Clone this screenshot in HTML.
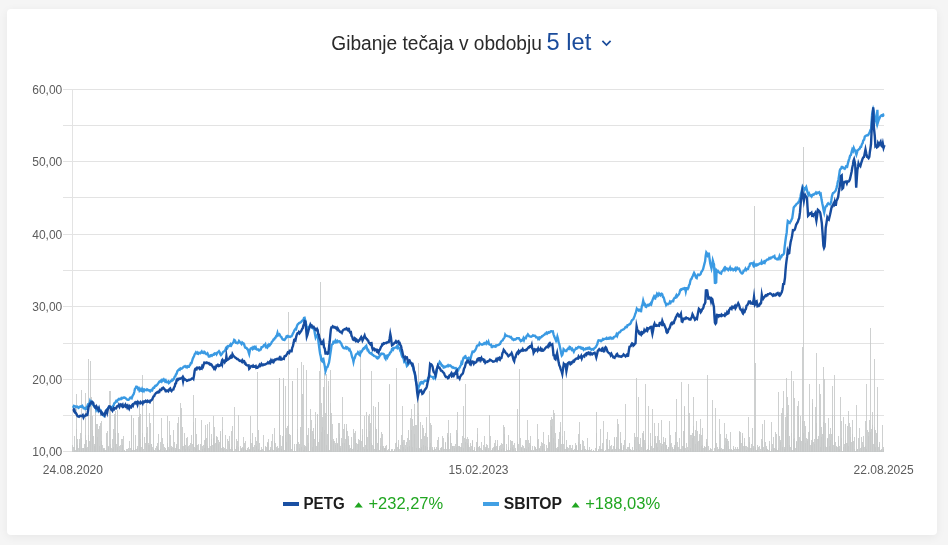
<!DOCTYPE html>
<html lang="sl">
<head>
<meta charset="utf-8">
<title>Gibanje tečaja</title>
<style>
html,body{margin:0;padding:0;}
body{width:948px;height:545px;background:#f5f5f5;overflow:hidden;position:relative;font-family:"Liberation Sans",sans-serif;}
.card{position:absolute;left:7px;top:9px;width:930px;height:526px;background:#fff;border-radius:4px;box-shadow:0 2px 10px rgba(0,0,0,0.06);}
svg{position:absolute;left:0;top:0;}
.ax{font-family:"Liberation Sans",sans-serif;font-size:12px;fill:#5c5c5c;}
.ttl{font-family:"Liberation Sans",sans-serif;font-size:20px;fill:#2a2a2a;}
.per{font-family:"Liberation Sans",sans-serif;font-size:24px;fill:#1a4b9b;}
.lg{font-family:"Liberation Sans",sans-serif;font-size:16.8px;font-weight:bold;fill:#1d1d1d;}
.pc{font-family:"Liberation Sans",sans-serif;font-size:17.2px;fill:#21a621;}
</style>
</head>
<body>
<div class="card"></div>
<svg width="948" height="545" viewBox="0 0 948 545">

<path d="M63 89.5H884M63 125.5H884M63 161.5H884M63 197.5H884M63 234.5H884M63 270.5H884M63 306.5H884M63 343.5H884M63 379.5H884M63 415.5H884M63 451.5H884" stroke="#e3e3e3" stroke-width="1" fill="none"/>
<path d="M72.5 89V452" stroke="#e3e3e3" stroke-width="1" fill="none"/>
<path d="M72.82 451.5v-6.8M73.46 451.5v-4.1M74.11 451.5v-4.3M74.75 451.5v-15.9M75.39 451.5v-1.2M76.04 451.5v-57.7M76.68 451.5v-22.1M77.32 451.5v-6.3M77.97 451.5v-12.7M78.61 451.5v-3.9M79.25 451.5v-12.7M79.89 451.5v-8.8M80.54 451.5v-18.5M81.18 451.5v-61.3M81.82 451.5v-13.3M82.47 451.5v-3.8M83.11 451.5v-3.1M83.75 451.5v-3.4M84.40 451.5v-8.0M85.04 451.5v-58.8M85.68 451.5v-16.8M86.33 451.5v-11.9M86.97 451.5v-3.2M87.61 451.5v-4.4M88.25 451.5v-92.1M88.90 451.5v-16.8M89.54 451.5v-10.9M90.18 451.5v-91.0M90.83 451.5v-36.4M91.47 451.5v-54.5M92.11 451.5v-35.9M92.76 451.5v-21.7M93.40 451.5v-16.0M94.04 451.5v-7.1M94.68 451.5v-5.9M95.33 451.5v-41.1M95.97 451.5v-33.5M96.61 451.5v-27.4M97.26 451.5v-27.8M97.90 451.5v-14.8M98.54 451.5v-22.1M99.19 451.5v-25.4M99.83 451.5v-5.1M100.47 451.5v-28.2M101.11 451.5v-30.5M101.76 451.5v-10.4M102.40 451.5v-6.9M103.04 451.5v-3.3M103.69 451.5v-2.2M104.33 451.5v-3.9M104.97 451.5v-1.7M105.62 451.5v-1.3M106.26 451.5v-18.7M106.90 451.5v-2.0M107.54 451.5v-20.6M108.19 451.5v-4.6M108.83 451.5v-5.5M109.47 451.5v-60.5M110.12 451.5v-60.2M110.76 451.5v-7.1M111.40 451.5v-3.6M112.05 451.5v-2.6M112.69 451.5v-12.7M113.33 451.5v-4.7M113.98 451.5v-22.4M114.62 451.5v-37.5M115.26 451.5v-18.8M115.90 451.5v-40.5M116.55 451.5v-7.6M117.19 451.5v-41.9M117.83 451.5v-4.8M118.48 451.5v-18.1M119.12 451.5v-5.2M119.76 451.5v-1.6M120.41 451.5v-6.6M121.05 451.5v-12.8M121.69 451.5v-0.7M122.33 451.5v-12.3M122.98 451.5v-6.9M123.62 451.5v-16.0M124.26 451.5v-1.5M124.91 451.5v-1.6M125.55 451.5v-0.7M126.19 451.5v-3.0M126.84 451.5v-0.6M127.48 451.5v-2.3M128.12 451.5v-0.9M128.76 451.5v-3.1M129.41 451.5v-10.3M130.05 451.5v-3.4M130.69 451.5v-0.3M131.34 451.5v-36.5M131.98 451.5v-36.6M132.62 451.5v-1.7M133.27 451.5v-33.5M133.91 451.5v-3.1M134.55 451.5v-1.7M135.20 451.5v-16.9M135.84 451.5v-3.0M136.48 451.5v-2.9M137.12 451.5v-6.0M137.77 451.5v-3.1M138.41 451.5v-35.0M139.05 451.5v-35.5M139.70 451.5v-48.2M140.34 451.5v-12.2M140.98 451.5v-37.5M141.63 451.5v-4.2M142.27 451.5v-76.7M142.91 451.5v-18.7M143.55 451.5v-2.2M144.20 451.5v-0.9M144.84 451.5v-14.4M145.48 451.5v-8.1M146.13 451.5v-18.3M146.77 451.5v-51.7M147.41 451.5v-24.7M148.06 451.5v-6.1M148.70 451.5v-8.3M149.34 451.5v-6.5M149.98 451.5v-38.5M150.63 451.5v-28.4M151.27 451.5v-7.6M151.91 451.5v-7.2M152.56 451.5v-4.1M153.20 451.5v-55.6M153.84 451.5v-3.0M154.49 451.5v-1.8M155.13 451.5v-0.7M155.77 451.5v-3.5M156.42 451.5v-5.9M157.06 451.5v-8.5M157.70 451.5v-4.2M158.34 451.5v-17.2M158.99 451.5v-2.2M159.63 451.5v-1.6M160.27 451.5v-9.4M160.92 451.5v-2.5M161.56 451.5v-33.5M162.20 451.5v-13.9M162.85 451.5v-0.9M163.49 451.5v-7.7M164.13 451.5v-1.6M164.77 451.5v-4.9M165.42 451.5v-3.6M166.06 451.5v-1.0M166.70 451.5v-1.3M167.35 451.5v-36.0M167.99 451.5v-8.1M168.63 451.5v-4.1M169.28 451.5v-30.1M169.92 451.5v-2.8M170.56 451.5v-16.2M171.20 451.5v-3.5M171.85 451.5v-5.7M172.49 451.5v-4.4M173.13 451.5v-3.8M173.78 451.5v-22.0M174.42 451.5v-9.3M175.06 451.5v-3.4M175.71 451.5v-1.6M176.35 451.5v-5.5M176.99 451.5v-7.8M177.63 451.5v-28.8M178.28 451.5v-35.0M178.92 451.5v-2.6M179.56 451.5v-2.9M180.21 451.5v-48.2M180.85 451.5v-1.9M181.49 451.5v-43.2M182.14 451.5v-6.0M182.78 451.5v-24.8M183.42 451.5v-5.2M184.07 451.5v-18.5M184.71 451.5v-7.6M185.35 451.5v-2.9M185.99 451.5v-6.2M186.64 451.5v-13.3M187.28 451.5v-14.9M187.92 451.5v-4.1M188.57 451.5v-5.6M189.21 451.5v-6.8M189.85 451.5v-2.6M190.50 451.5v-8.6M191.14 451.5v-0.7M191.78 451.5v-17.0M192.42 451.5v-7.1M193.07 451.5v-29.8M193.71 451.5v-56.2M194.35 451.5v-4.3M195.00 451.5v-3.7M195.64 451.5v-33.5M196.28 451.5v-17.9M196.93 451.5v-6.8M197.57 451.5v-6.8M198.21 451.5v-7.9M198.85 451.5v-1.4M199.50 451.5v-1.7M200.14 451.5v-0.5M200.78 451.5v-7.5M201.43 451.5v-31.8M202.07 451.5v-5.1M202.71 451.5v-2.3M203.36 451.5v-6.1M204.00 451.5v-11.8M204.64 451.5v-3.1M205.29 451.5v-27.0M205.93 451.5v-12.3M206.57 451.5v-13.4M207.21 451.5v-5.3M207.86 451.5v-27.3M208.50 451.5v-3.4M209.14 451.5v-29.9M209.79 451.5v-4.0M210.43 451.5v-5.7M211.07 451.5v-12.3M211.72 451.5v-17.3M212.36 451.5v-6.9M213.00 451.5v-13.2M213.64 451.5v-35.8M214.29 451.5v-7.5M214.93 451.5v-24.4M215.57 451.5v-8.9M216.22 451.5v-16.0M216.86 451.5v-14.1M217.50 451.5v-14.3M218.15 451.5v-7.8M218.79 451.5v-11.8M219.43 451.5v-9.1M220.07 451.5v-20.9M220.72 451.5v-17.4M221.36 451.5v-3.7M222.00 451.5v-34.5M222.65 451.5v-23.0M223.29 451.5v-4.3M223.93 451.5v-2.7M224.58 451.5v-3.7M225.22 451.5v-1.6M225.86 451.5v-16.3M226.50 451.5v-2.8M227.15 451.5v-1.6M227.79 451.5v-12.7M228.43 451.5v-10.5M229.08 451.5v-7.2M229.72 451.5v-15.9M230.36 451.5v-3.0M231.01 451.5v-4.8M231.65 451.5v-20.4M232.29 451.5v-2.8M232.94 451.5v-25.6M233.58 451.5v-0.6M234.22 451.5v-0.2M234.86 451.5v-45.0M235.51 451.5v-2.1M236.15 451.5v-5.3M236.79 451.5v-12.6M237.44 451.5v-10.1M238.08 451.5v-4.7M238.72 451.5v-36.6M239.37 451.5v-0.5M240.01 451.5v-0.4M240.65 451.5v-5.3M241.29 451.5v-2.6M241.94 451.5v-3.5M242.58 451.5v-4.5M243.22 451.5v-3.1M243.87 451.5v-15.0M244.51 451.5v-8.6M245.15 451.5v-2.5M245.80 451.5v-10.7M246.44 451.5v-1.8M247.08 451.5v-1.2M247.72 451.5v-3.7M248.37 451.5v-5.0M249.01 451.5v-1.7M249.65 451.5v-2.6M250.30 451.5v-35.2M250.94 451.5v-12.2M251.58 451.5v-8.7M252.23 451.5v-8.5M252.87 451.5v-18.7M253.51 451.5v-4.9M254.16 451.5v-6.2M254.80 451.5v-1.4M255.44 451.5v-14.9M256.08 451.5v-5.9M256.73 451.5v-10.1M257.37 451.5v-79.9M258.01 451.5v-2.6M258.66 451.5v-21.3M259.30 451.5v-8.4M259.94 451.5v-0.8M260.59 451.5v-1.8M261.23 451.5v-4.9M261.87 451.5v-1.7M262.51 451.5v-2.1M263.16 451.5v-16.4M263.80 451.5v-1.7M264.44 451.5v-0.7M265.09 451.5v-5.3M265.73 451.5v-4.3M266.37 451.5v-4.9M267.02 451.5v-9.4M267.66 451.5v-8.6M268.30 451.5v-12.9M268.94 451.5v-8.1M269.59 451.5v-1.9M270.23 451.5v-2.3M270.87 451.5v-4.1M271.52 451.5v-11.0M272.16 451.5v-2.5M272.80 451.5v-17.3M273.45 451.5v-1.2M274.09 451.5v-11.0M274.73 451.5v-23.3M275.38 451.5v-8.8M276.02 451.5v-4.2M276.66 451.5v-1.8M277.30 451.5v-2.5M277.95 451.5v-5.2M278.59 451.5v-3.3M279.23 451.5v-73.5M279.88 451.5v-73.5M280.52 451.5v-16.3M281.16 451.5v-5.8M281.81 451.5v-3.0M282.45 451.5v-15.4M283.09 451.5v-72.5M283.73 451.5v-73.5M284.38 451.5v-1.7M285.02 451.5v-16.7M285.66 451.5v-65.5M286.31 451.5v-9.5M286.95 451.5v-23.6M287.59 451.5v-25.7M288.24 451.5v-26.4M288.88 451.5v-139.5M289.52 451.5v-17.3M290.16 451.5v-16.2M290.81 451.5v-11.4M291.45 451.5v-2.7M292.09 451.5v-70.8M292.74 451.5v-70.5M293.38 451.5v-0.7M294.02 451.5v-7.1M294.67 451.5v-4.2M295.31 451.5v-1.0M295.95 451.5v-0.7M296.59 451.5v-8.0M297.24 451.5v-83.5M297.88 451.5v-22.9M298.52 451.5v-9.9M299.17 451.5v-7.9M299.81 451.5v-3.1M300.45 451.5v-24.9M301.10 451.5v-4.3M301.74 451.5v-90.0M302.38 451.5v-57.8M303.03 451.5v-86.5M303.67 451.5v-1.8M304.31 451.5v-6.7M304.95 451.5v-4.1M305.60 451.5v-5.1M306.24 451.5v-4.7M306.88 451.5v-81.5M307.53 451.5v-16.4M308.17 451.5v-8.5M308.81 451.5v-23.3M309.46 451.5v-0.9M310.10 451.5v-22.2M310.74 451.5v-42.7M311.38 451.5v-31.4M312.03 451.5v-20.2M312.67 451.5v-4.1M313.31 451.5v-23.5M313.96 451.5v-17.4M314.60 451.5v-12.9M315.24 451.5v-27.2M315.89 451.5v-40.0M316.53 451.5v-5.5M317.17 451.5v-37.6M317.81 451.5v-36.3M318.46 451.5v-9.4M319.10 451.5v-80.5M319.74 451.5v-12.7M320.39 451.5v-169.2M321.03 451.5v-48.2M321.67 451.5v-19.2M322.32 451.5v-35.0M322.96 451.5v-24.3M323.60 451.5v-64.4M324.25 451.5v-21.4M324.89 451.5v-78.5M325.53 451.5v-38.9M326.17 451.5v-77.5M326.82 451.5v-6.7M327.46 451.5v-17.1M328.10 451.5v-65.5M328.75 451.5v-71.0M329.39 451.5v-1.5M330.03 451.5v-48.5M330.68 451.5v-81.5M331.32 451.5v-38.5M331.96 451.5v-11.3M332.60 451.5v-27.1M333.25 451.5v-10.7M333.89 451.5v-12.2M334.53 451.5v-10.6M335.18 451.5v-8.6M335.82 451.5v-6.1M336.46 451.5v-13.1M337.11 451.5v-9.0M337.75 451.5v-7.6M338.39 451.5v-28.2M339.03 451.5v-17.4M339.68 451.5v-28.3M340.32 451.5v-4.0M340.96 451.5v-5.9M341.61 451.5v-13.2M342.25 451.5v-8.4M342.89 451.5v-54.5M343.54 451.5v-22.2M344.18 451.5v-27.7M344.82 451.5v-8.2M345.46 451.5v-12.3M346.11 451.5v-27.6M346.75 451.5v-23.2M347.39 451.5v-20.8M348.04 451.5v-15.7M348.68 451.5v-12.7M349.32 451.5v-2.9M349.97 451.5v-6.6M350.61 451.5v-4.0M351.25 451.5v-6.8M351.90 451.5v-14.5M352.54 451.5v-2.2M353.18 451.5v-22.7M353.82 451.5v-3.9M354.47 451.5v-18.9M355.11 451.5v-20.1M355.75 451.5v-13.0M356.40 451.5v-8.2M357.04 451.5v-7.4M357.68 451.5v-1.5M358.33 451.5v-12.3M358.97 451.5v-7.5M359.61 451.5v-11.5M360.25 451.5v-82.5M360.90 451.5v-94.5M361.54 451.5v-10.2M362.18 451.5v-22.8M362.83 451.5v-16.2M363.47 451.5v-4.9M364.11 451.5v-2.1M364.76 451.5v-35.8M365.40 451.5v-6.1M366.04 451.5v-22.8M366.68 451.5v-39.1M367.33 451.5v-14.7M367.97 451.5v-2.2M368.61 451.5v-35.7M369.26 451.5v-20.8M369.90 451.5v-37.6M370.54 451.5v-28.4M371.19 451.5v-80.7M371.83 451.5v-8.3M372.47 451.5v-6.1M373.12 451.5v-5.1M373.76 451.5v-45.8M374.40 451.5v-2.8M375.04 451.5v-44.6M375.69 451.5v-25.0M376.33 451.5v-2.8M376.97 451.5v-22.2M377.62 451.5v-8.9M378.26 451.5v-49.5M378.90 451.5v-49.5M379.55 451.5v-1.9M380.19 451.5v-13.4M380.83 451.5v-5.2M381.47 451.5v-19.3M382.12 451.5v-17.8M382.76 451.5v-5.6M383.40 451.5v-5.3M384.05 451.5v-3.4M384.69 451.5v-4.0M385.33 451.5v-3.1M385.98 451.5v-5.6M386.62 451.5v-7.0M387.26 451.5v-1.6M387.90 451.5v-1.0M388.55 451.5v-2.8M389.19 451.5v-67.5M389.83 451.5v-67.0M390.48 451.5v-0.9M391.12 451.5v-1.4M391.76 451.5v-2.9M392.41 451.5v-2.1M393.05 451.5v-0.2M393.69 451.5v-0.6M394.33 451.5v-1.2M394.98 451.5v-2.3M395.62 451.5v-8.7M396.26 451.5v-84.0M396.91 451.5v-9.6M397.55 451.5v-4.5M398.19 451.5v-12.0M398.84 451.5v-7.6M399.48 451.5v-2.9M400.12 451.5v-1.5M400.77 451.5v-6.8M401.41 451.5v-16.6M402.05 451.5v-46.0M402.69 451.5v-9.6M403.34 451.5v-11.2M403.98 451.5v-4.9M404.62 451.5v-11.1M405.27 451.5v-6.5M405.91 451.5v-2.5M406.55 451.5v-9.5M407.20 451.5v-4.4M407.84 451.5v-13.7M408.48 451.5v-21.2M409.12 451.5v-5.1M409.77 451.5v-11.4M410.41 451.5v-33.8M411.05 451.5v-22.0M411.70 451.5v-42.5M412.34 451.5v-4.1M412.98 451.5v-33.0M413.63 451.5v-25.9M414.27 451.5v-47.5M414.91 451.5v-18.0M415.55 451.5v-26.3M416.20 451.5v-3.5M416.84 451.5v-26.4M417.48 451.5v-49.8M418.13 451.5v-89.0M418.77 451.5v-38.4M419.41 451.5v-3.5M420.06 451.5v-29.7M420.70 451.5v-2.4M421.34 451.5v-12.3M421.99 451.5v-4.3M422.63 451.5v-26.6M423.27 451.5v-23.9M423.91 451.5v-6.6M424.56 451.5v-15.7M425.20 451.5v-18.8M425.84 451.5v-6.0M426.49 451.5v-34.4M427.13 451.5v-14.9M427.77 451.5v-4.6M428.42 451.5v-2.0M429.06 451.5v-60.9M429.70 451.5v-4.4M430.34 451.5v-8.4M430.99 451.5v-28.3M431.63 451.5v-26.3M432.27 451.5v-2.9M432.92 451.5v-4.3M433.56 451.5v-1.4M434.20 451.5v-4.2M434.85 451.5v-2.9M435.49 451.5v-2.8M436.13 451.5v-5.0M436.77 451.5v-0.7M437.42 451.5v-11.1M438.06 451.5v-14.2M438.70 451.5v-3.9M439.35 451.5v-1.2M439.99 451.5v-0.8M440.63 451.5v-3.7M441.28 451.5v-4.0M441.92 451.5v-4.2M442.56 451.5v-15.9M443.21 451.5v-13.9M443.85 451.5v-2.4M444.49 451.5v-2.2M445.13 451.5v-9.8M445.78 451.5v-8.1M446.42 451.5v-2.2M447.06 451.5v-16.5M447.71 451.5v-18.9M448.35 451.5v-14.8M448.99 451.5v-31.5M449.64 451.5v-2.5M450.28 451.5v-18.2M450.92 451.5v-15.9M451.56 451.5v-9.0M452.21 451.5v-5.9M452.85 451.5v-5.9M453.49 451.5v-5.8M454.14 451.5v-5.7M454.78 451.5v-3.9M455.42 451.5v-7.3M456.07 451.5v-4.9M456.71 451.5v-21.3M457.35 451.5v-39.5M457.99 451.5v-19.0M458.64 451.5v-5.5M459.28 451.5v-5.8M459.92 451.5v-5.8M460.57 451.5v-4.2M461.21 451.5v-8.2M461.85 451.5v-4.5M462.50 451.5v-15.1M463.14 451.5v-46.0M463.78 451.5v-3.6M464.42 451.5v-13.9M465.07 451.5v-9.6M465.71 451.5v-67.5M466.35 451.5v-12.9M467.00 451.5v-8.5M467.64 451.5v-14.9M468.28 451.5v-12.2M468.93 451.5v-6.8M469.57 451.5v-4.8M470.21 451.5v-8.6M470.86 451.5v-2.2M471.50 451.5v-5.9M472.14 451.5v-10.4M472.78 451.5v-11.8M473.43 451.5v-1.5M474.07 451.5v-4.4M474.71 451.5v-2.8M475.36 451.5v-0.9M476.00 451.5v-4.0M476.64 451.5v-9.1M477.29 451.5v-17.8M477.93 451.5v-23.5M478.57 451.5v-4.3M479.21 451.5v-5.8M479.86 451.5v-5.2M480.50 451.5v-3.7M481.14 451.5v-9.5M481.79 451.5v-2.9M482.43 451.5v-1.6M483.07 451.5v-0.8M483.72 451.5v-6.2M484.36 451.5v-15.3M485.00 451.5v-4.8M485.64 451.5v-2.1M486.29 451.5v-7.8M486.93 451.5v-4.6M487.57 451.5v-6.7M488.22 451.5v-1.6M488.86 451.5v-3.8M489.50 451.5v-36.1M490.15 451.5v-15.1M490.79 451.5v-0.3M491.43 451.5v-2.0M492.08 451.5v-2.3M492.72 451.5v-3.8M493.36 451.5v-5.0M494.00 451.5v-8.4M494.65 451.5v-5.5M495.29 451.5v-4.7M495.93 451.5v-11.6M496.58 451.5v-5.4M497.22 451.5v-7.2M497.86 451.5v-11.4M498.51 451.5v-1.2M499.15 451.5v-3.1M499.79 451.5v-5.4M500.43 451.5v-6.2M501.08 451.5v-8.5M501.72 451.5v-2.4M502.36 451.5v-7.3M503.01 451.5v-26.5M503.65 451.5v-3.1M504.29 451.5v-24.7M504.94 451.5v-17.5M505.58 451.5v-0.7M506.22 451.5v-7.4M506.86 451.5v-2.7M507.51 451.5v-1.4M508.15 451.5v-4.9M508.79 451.5v-16.4M509.44 451.5v-1.9M510.08 451.5v-3.5M510.72 451.5v-12.0M511.37 451.5v-10.5M512.01 451.5v-4.9M512.65 451.5v-10.5M513.29 451.5v-2.6M513.94 451.5v-6.9M514.58 451.5v-8.4M515.22 451.5v-3.6M515.87 451.5v-1.6M516.51 451.5v-0.8M517.15 451.5v-42.7M517.80 451.5v-9.4M518.44 451.5v-7.1M519.08 451.5v-0.4M519.73 451.5v-82.3M520.37 451.5v-13.3M521.01 451.5v-3.2M521.65 451.5v-4.8M522.30 451.5v-0.9M522.94 451.5v-6.4M523.58 451.5v-5.1M524.23 451.5v-2.6M524.87 451.5v-3.7M525.51 451.5v-11.9M526.16 451.5v-12.0M526.80 451.5v-2.1M527.44 451.5v-31.3M528.08 451.5v-11.2M528.73 451.5v-4.4M529.37 451.5v-8.4M530.01 451.5v-15.3M530.66 451.5v-6.7M531.30 451.5v-0.5M531.94 451.5v-1.4M532.59 451.5v-5.8M533.23 451.5v-0.6M533.87 451.5v-1.5M534.51 451.5v-5.2M535.16 451.5v-4.1M535.80 451.5v-4.0M536.44 451.5v-3.0M537.09 451.5v-27.6M537.73 451.5v-11.2M538.37 451.5v-12.4M539.02 451.5v-3.7M539.66 451.5v-2.3M540.30 451.5v-5.8M540.95 451.5v-0.2M541.59 451.5v-9.1M542.23 451.5v-8.7M542.87 451.5v-5.5M543.52 451.5v-19.9M544.16 451.5v-2.4M544.80 451.5v-7.7M545.45 451.5v-0.3M546.09 451.5v-7.0M546.73 451.5v-1.1M547.38 451.5v-3.6M548.02 451.5v-16.8M548.66 451.5v-12.7M549.30 451.5v-9.1M549.95 451.5v-8.4M550.59 451.5v-31.6M551.23 451.5v-34.7M551.88 451.5v-25.8M552.52 451.5v-32.8M553.16 451.5v-41.3M553.81 451.5v-13.9M554.45 451.5v-38.7M555.09 451.5v-18.3M555.73 451.5v-9.0M556.38 451.5v-3.4M557.02 451.5v-2.9M557.66 451.5v-4.7M558.31 451.5v-13.0M558.95 451.5v-4.4M559.59 451.5v-19.6M560.24 451.5v-24.8M560.88 451.5v-29.5M561.52 451.5v-8.0M562.17 451.5v-16.0M562.81 451.5v-77.5M563.45 451.5v-7.5M564.09 451.5v-2.6M564.74 451.5v-20.9M565.38 451.5v-2.4M566.02 451.5v-11.3M566.67 451.5v-4.5M567.31 451.5v-2.7M567.95 451.5v-4.9M568.60 451.5v-3.2M569.24 451.5v-6.4M569.88 451.5v-0.6M570.52 451.5v-6.2M571.17 451.5v-3.9M571.81 451.5v-1.8M572.45 451.5v-6.2M573.10 451.5v-2.0M573.74 451.5v-1.2M574.38 451.5v-2.1M575.03 451.5v-5.9M575.67 451.5v-8.1M576.31 451.5v-5.5M576.95 451.5v-6.6M577.60 451.5v-1.2M578.24 451.5v-17.8M578.88 451.5v-10.0M579.53 451.5v-29.7M580.17 451.5v-7.1M580.81 451.5v-7.5M581.46 451.5v-1.7M582.10 451.5v-12.0M582.74 451.5v-3.0M583.38 451.5v-10.1M584.03 451.5v-5.1M584.67 451.5v-2.1M585.31 451.5v-2.2M585.96 451.5v-0.6M586.60 451.5v-1.2M587.24 451.5v-2.3M587.89 451.5v-13.3M588.53 451.5v-1.4M589.17 451.5v-1.4M589.82 451.5v-4.5M590.46 451.5v-1.1M591.10 451.5v-2.2M591.74 451.5v-1.0M592.39 451.5v-0.8M593.03 451.5v-1.8M593.67 451.5v-1.8M594.32 451.5v-0.5M594.96 451.5v-0.1M595.60 451.5v-3.1M596.25 451.5v-18.4M596.89 451.5v-39.5M597.53 451.5v-0.9M598.17 451.5v-2.6M598.82 451.5v-1.9M599.46 451.5v-5.8M600.10 451.5v-2.6M600.75 451.5v-22.9M601.39 451.5v-2.4M602.03 451.5v-8.5M602.68 451.5v-2.9M603.32 451.5v-1.4M603.96 451.5v-30.5M604.60 451.5v-0.5M605.25 451.5v-1.0M605.89 451.5v-2.0M606.53 451.5v-12.3M607.18 451.5v-7.0M607.82 451.5v-19.6M608.46 451.5v-2.9M609.11 451.5v-11.8M609.75 451.5v-2.1M610.39 451.5v-5.2M611.04 451.5v-7.0M611.68 451.5v-1.1M612.32 451.5v-2.3M612.96 451.5v-1.6M613.61 451.5v-5.4M614.25 451.5v-14.2M614.89 451.5v-13.9M615.54 451.5v-2.1M616.18 451.5v-14.9M616.82 451.5v-4.8M617.47 451.5v-32.8M618.11 451.5v-3.1M618.75 451.5v-27.7M619.39 451.5v-2.7M620.04 451.5v-13.6M620.68 451.5v-19.8M621.32 451.5v-8.8M621.97 451.5v-5.4M622.61 451.5v-1.5M623.25 451.5v-4.9M623.90 451.5v-6.1M624.54 451.5v-11.7M625.18 451.5v-47.7M625.82 451.5v-1.0M626.47 451.5v-2.6M627.11 451.5v-1.1M627.75 451.5v-4.3M628.40 451.5v-4.9M629.04 451.5v-4.5M629.68 451.5v-8.2M630.33 451.5v-1.1M630.97 451.5v-2.9M631.61 451.5v-2.0M632.25 451.5v-4.1M632.90 451.5v-0.7M633.54 451.5v-1.6M634.18 451.5v-18.4M634.83 451.5v-11.6M635.47 451.5v-15.0M636.11 451.5v-2.1M636.76 451.5v-73.5M637.40 451.5v-14.8M638.04 451.5v-10.0M638.69 451.5v-54.5M639.33 451.5v-1.7M639.97 451.5v-7.2M640.61 451.5v-13.5M641.26 451.5v-4.5M641.90 451.5v-0.4M642.54 451.5v-18.9M643.19 451.5v-17.6M643.83 451.5v-21.0M644.47 451.5v-11.2M645.12 451.5v-67.5M645.76 451.5v-8.1M646.40 451.5v-1.7M647.04 451.5v-2.4M647.69 451.5v-1.5M648.33 451.5v-46.0M648.97 451.5v-6.1M649.62 451.5v-1.6M650.26 451.5v-8.1M650.90 451.5v-18.1M651.55 451.5v-5.5M652.19 451.5v-2.9M652.83 451.5v-42.5M653.47 451.5v-4.0M654.12 451.5v-12.3M654.76 451.5v-28.4M655.40 451.5v-15.8M656.05 451.5v-9.0M656.69 451.5v-7.1M657.33 451.5v-4.7M657.98 451.5v-16.0M658.62 451.5v-28.6M659.26 451.5v-11.7M659.91 451.5v-1.5M660.55 451.5v-8.2M661.19 451.5v-31.9M661.83 451.5v-5.1M662.48 451.5v-7.3M663.12 451.5v-14.6M663.76 451.5v-9.2M664.41 451.5v-9.1M665.05 451.5v-11.3M665.69 451.5v-13.6M666.34 451.5v-6.6M666.98 451.5v-6.6M667.62 451.5v-2.3M668.26 451.5v-4.3M668.91 451.5v-4.9M669.55 451.5v-30.1M670.19 451.5v-16.2M670.84 451.5v-7.5M671.48 451.5v-8.7M672.12 451.5v-4.2M672.77 451.5v-3.2M673.41 451.5v-2.5M674.05 451.5v-4.3M674.69 451.5v-6.8M675.34 451.5v-10.0M675.98 451.5v-20.0M676.62 451.5v-52.6M677.27 451.5v-9.2M677.91 451.5v-4.1M678.55 451.5v-4.3M679.20 451.5v-2.6M679.84 451.5v-13.6M680.48 451.5v-2.2M681.12 451.5v-69.1M681.77 451.5v-2.1M682.41 451.5v-5.7M683.05 451.5v-20.4M683.70 451.5v-5.6M684.34 451.5v-45.5M684.98 451.5v-44.5M685.63 451.5v-4.0M686.27 451.5v-9.0M686.91 451.5v-1.2M687.56 451.5v-4.1M688.20 451.5v-67.5M688.84 451.5v-1.8M689.48 451.5v-38.5M690.13 451.5v-16.4M690.77 451.5v-3.1M691.41 451.5v-16.6M692.06 451.5v-18.6M692.70 451.5v-13.1M693.34 451.5v-25.2M693.99 451.5v-54.9M694.63 451.5v-15.4M695.27 451.5v-21.2M695.91 451.5v-7.4M696.56 451.5v-30.4M697.20 451.5v-9.6M697.84 451.5v-20.8M698.49 451.5v-10.7M699.13 451.5v-11.5M699.77 451.5v-17.9M700.42 451.5v-32.5M701.06 451.5v-5.3M701.70 451.5v-16.8M702.34 451.5v-23.7M702.99 451.5v-6.9M703.63 451.5v-3.8M704.27 451.5v-5.5M704.92 451.5v-4.5M705.56 451.5v-4.6M706.20 451.5v-9.1M706.85 451.5v-12.7M707.49 451.5v-76.2M708.13 451.5v-1.0M708.78 451.5v-5.5M709.42 451.5v-1.5M710.06 451.5v-4.0M710.70 451.5v-3.0M711.35 451.5v-0.5M711.99 451.5v-2.8M712.63 451.5v-52.0M713.28 451.5v-1.0M713.92 451.5v-1.0M714.56 451.5v-3.7M715.21 451.5v-43.5M715.85 451.5v-20.2M716.49 451.5v-8.6M717.13 451.5v-4.5M717.78 451.5v-1.5M718.42 451.5v-3.0M719.06 451.5v-32.6M719.71 451.5v-4.3M720.35 451.5v-2.7M720.99 451.5v-17.1M721.64 451.5v-3.5M722.28 451.5v-1.4M722.92 451.5v-2.3M723.56 451.5v-2.9M724.21 451.5v-6.2M724.85 451.5v-28.4M725.49 451.5v-13.8M726.14 451.5v-10.5M726.78 451.5v-17.7M727.42 451.5v-12.1M728.07 451.5v-5.8M728.71 451.5v-10.4M729.35 451.5v-2.4M730.00 451.5v-19.3M730.64 451.5v-1.8M731.28 451.5v-2.1M731.92 451.5v-1.6M732.57 451.5v-1.7M733.21 451.5v-5.2M733.85 451.5v-3.5M734.50 451.5v-2.6M735.14 451.5v-5.0M735.78 451.5v-0.4M736.43 451.5v-2.4M737.07 451.5v-4.3M737.71 451.5v-2.6M738.35 451.5v-2.9M739.00 451.5v-20.0M739.64 451.5v-21.0M740.28 451.5v-19.9M740.93 451.5v-11.5M741.57 451.5v-8.5M742.21 451.5v-18.2M742.86 451.5v-16.0M743.50 451.5v-5.5M744.14 451.5v-13.8M744.78 451.5v-9.1M745.43 451.5v-5.9M746.07 451.5v-5.3M746.71 451.5v-1.8M747.36 451.5v-4.3M748.00 451.5v-35.0M748.64 451.5v-3.6M749.29 451.5v-9.4M749.93 451.5v-14.2M750.57 451.5v-3.2M751.21 451.5v-7.3M751.86 451.5v-3.3M752.50 451.5v-23.7M753.14 451.5v-5.2M753.79 451.5v-3.1M754.43 451.5v-245.8M755.07 451.5v-89.0M755.72 451.5v-4.4M756.36 451.5v-1.1M757.00 451.5v-6.9M757.65 451.5v-2.2M758.29 451.5v-4.2M758.93 451.5v-0.9M759.57 451.5v-5.4M760.22 451.5v-0.5M760.86 451.5v-3.0M761.50 451.5v-12.1M762.15 451.5v-10.5M762.79 451.5v-27.5M763.43 451.5v-4.8M764.08 451.5v-1.8M764.72 451.5v-31.5M765.36 451.5v-9.8M766.00 451.5v-4.0M766.65 451.5v-5.5M767.29 451.5v-1.5M767.93 451.5v-2.2M768.58 451.5v-2.0M769.22 451.5v-7.2M769.86 451.5v-10.4M770.51 451.5v-0.5M771.15 451.5v-2.1M771.79 451.5v-29.5M772.43 451.5v-7.6M773.08 451.5v-3.9M773.72 451.5v-14.3M774.36 451.5v-3.7M775.01 451.5v-19.9M775.65 451.5v-2.4M776.29 451.5v-2.4M776.94 451.5v-17.7M777.58 451.5v-1.7M778.22 451.5v-59.1M778.87 451.5v-3.7M779.51 451.5v-15.6M780.15 451.5v-11.8M780.79 451.5v-9.3M781.44 451.5v-38.2M782.08 451.5v-43.5M782.72 451.5v-4.3M783.37 451.5v-60.9M784.01 451.5v-4.5M784.65 451.5v-2.3M785.30 451.5v-21.9M785.94 451.5v-34.2M786.58 451.5v-73.3M787.22 451.5v-54.4M787.87 451.5v-38.1M788.51 451.5v-46.1M789.15 451.5v-15.9M789.80 451.5v-6.4M790.44 451.5v-4.5M791.08 451.5v-80.5M791.73 451.5v-18.9M792.37 451.5v-1.7M793.01 451.5v-12.5M793.65 451.5v-70.5M794.30 451.5v-53.3M794.94 451.5v-13.2M795.58 451.5v-3.4M796.23 451.5v-10.9M796.87 451.5v-9.1M797.51 451.5v-45.5M798.16 451.5v-36.0M798.80 451.5v-50.8M799.44 451.5v-14.7M800.08 451.5v-35.4M800.73 451.5v-11.5M801.37 451.5v-10.7M802.01 451.5v-104.6M802.66 451.5v-30.3M803.30 451.5v-304.8M803.94 451.5v-18.2M804.59 451.5v-30.6M805.23 451.5v-8.2M805.87 451.5v-25.1M806.52 451.5v-14.0M807.16 451.5v-10.3M807.80 451.5v-12.4M808.44 451.5v-19.1M809.09 451.5v-67.6M809.73 451.5v-20.9M810.37 451.5v-6.2M811.02 451.5v-8.6M811.66 451.5v-12.0M812.30 451.5v-52.4M812.95 451.5v-48.8M813.59 451.5v-9.8M814.23 451.5v-7.3M814.87 451.5v-12.9M815.52 451.5v-44.4M816.16 451.5v-98.9M816.80 451.5v-29.0M817.45 451.5v-12.7M818.09 451.5v-12.9M818.73 451.5v-15.9M819.38 451.5v-67.6M820.02 451.5v-4.6M820.66 451.5v-57.6M821.30 451.5v-24.5M821.95 451.5v-14.2M822.59 451.5v-17.4M823.23 451.5v-84.7M823.88 451.5v-30.0M824.52 451.5v-72.3M825.16 451.5v-28.7M825.81 451.5v-5.9M826.45 451.5v-4.3M827.09 451.5v-13.7M827.74 451.5v-12.2M828.38 451.5v-33.9M829.02 451.5v-17.3M829.66 451.5v-5.9M830.31 451.5v-11.2M830.95 451.5v-23.4M831.59 451.5v-18.0M832.24 451.5v-36.8M832.88 451.5v-65.8M833.52 451.5v-6.4M834.17 451.5v-76.2M834.81 451.5v-35.7M835.45 451.5v-9.4M836.09 451.5v-4.6M836.74 451.5v-5.2M837.38 451.5v-4.5M838.02 451.5v-15.2M838.67 451.5v-11.1M839.31 451.5v-5.6M839.95 451.5v-2.1M840.60 451.5v-54.9M841.24 451.5v-14.0M841.88 451.5v-30.8M842.52 451.5v-0.8M843.17 451.5v-34.7M843.81 451.5v-4.6M844.45 451.5v-7.3M845.10 451.5v-11.9M845.74 451.5v-27.7M846.38 451.5v-8.3M847.03 451.5v-25.9M847.67 451.5v-9.0M848.31 451.5v-5.4M848.96 451.5v-40.4M849.60 451.5v-28.1M850.24 451.5v-14.6M850.88 451.5v-24.8M851.53 451.5v-9.6M852.17 451.5v-17.6M852.81 451.5v-31.9M853.46 451.5v-11.0M854.10 451.5v-14.5M854.74 451.5v-2.6M855.39 451.5v-1.0M856.03 451.5v-46.3M856.67 451.5v-1.3M857.31 451.5v-2.6M857.96 451.5v-2.6M858.60 451.5v-13.6M859.24 451.5v-23.8M859.89 451.5v-2.5M860.53 451.5v-3.3M861.17 451.5v-4.6M861.82 451.5v-14.3M862.46 451.5v-9.1M863.10 451.5v-6.5M863.74 451.5v-15.7M864.39 451.5v-4.3M865.03 451.5v-30.7M865.67 451.5v-5.1M866.32 451.5v-67.6M866.96 451.5v-2.3M867.60 451.5v-21.2M868.25 451.5v-19.6M868.89 451.5v-15.8M869.53 451.5v-31.3M870.17 451.5v-19.6M870.82 451.5v-123.9M871.46 451.5v-22.1M872.10 451.5v-39.6M872.75 451.5v-26.4M873.39 451.5v-8.0M874.03 451.5v-24.4M874.68 451.5v-92.7M875.32 451.5v-4.9M875.96 451.5v-21.1M876.61 451.5v-18.3M877.25 451.5v-37.7M877.89 451.5v-64.8M878.53 451.5v-4.1M879.18 451.5v-9.6M879.82 451.5v-8.0M880.46 451.5v-1.1M881.11 451.5v-2.3M881.75 451.5v-1.2M882.39 451.5v-26.5M883.04 451.5v-4.7M883.68 451.5v-2.6" stroke="#c6c8c8" stroke-width="0.85" fill="none" shape-rendering="crispEdges"/>
<path d="M72.8 406.1 L73.4 406.9 L74.0 405.9 L74.6 406.2 L75.2 406.3 L75.8 406.8 L76.4 406.6 L77.1 406.5 L77.7 406.9 L78.4 407.9 L79.0 407.5 L79.7 406.9 L80.3 406.4 L80.9 406.8 L81.5 406.6 L82.2 405.9 L82.8 406.9 L83.5 408.1 L84.1 408.0 L84.8 408.0 L85.4 409.1 L86.1 408.8 L86.7 407.1 L87.3 406.4 L88.0 404.2 L88.6 403.8 L89.2 404.6 L89.9 401.8 L90.5 403.6 L91.2 401.9 L91.8 403.0 L92.5 403.6 L93.1 404.8 L93.8 405.8 L94.4 406.8 L95.0 407.5 L95.7 407.3 L96.3 409.9 L97.0 408.5 L97.6 409.1 L98.2 410.5 L98.9 408.6 L99.5 409.8 L100.2 410.5 L100.8 410.5 L101.4 412.1 L102.1 413.7 L102.7 414.0 L103.4 415.3 L104.0 415.9 L104.7 414.2 L105.3 412.7 L106.0 412.5 L106.6 410.2 L107.3 409.1 L107.9 409.0 L108.5 407.8 L109.2 407.3 L109.8 407.0 L110.5 407.2 L111.1 407.0 L111.8 407.4 L112.4 408.0 L113.0 406.1 L113.7 405.1 L114.3 403.2 L115.0 402.8 L115.6 401.9 L116.2 400.9 L116.9 401.4 L117.5 400.3 L118.2 399.6 L118.8 399.0 L119.5 399.3 L120.1 398.9 L120.8 399.1 L121.4 398.1 L122.0 398.6 L122.7 398.2 L123.3 397.5 L124.0 397.7 L124.6 397.5 L125.3 397.9 L125.9 398.5 L126.6 399.1 L127.2 399.7 L127.9 399.8 L128.5 399.8 L129.1 399.4 L129.8 398.3 L130.4 397.6 L131.1 397.7 L131.7 398.2 L132.4 396.3 L133.0 395.2 L133.6 394.3 L134.3 392.0 L134.9 389.1 L135.6 388.2 L136.2 386.7 L136.8 386.7 L137.5 387.2 L138.1 388.9 L138.8 388.3 L139.4 390.5 L140.1 389.4 L140.7 390.5 L141.3 390.7 L142.0 389.1 L142.6 390.7 L143.3 389.9 L143.9 390.9 L144.5 389.5 L145.2 389.9 L145.8 390.0 L146.5 390.2 L147.1 389.3 L147.7 389.6 L148.4 390.5 L149.0 390.6 L149.7 390.3 L150.3 391.4 L150.9 390.8 L151.6 390.0 L152.2 390.3 L152.9 388.4 L153.5 387.7 L154.2 387.7 L154.8 386.4 L155.4 385.7 L156.1 385.8 L156.7 385.2 L157.4 384.4 L158.0 383.6 L158.6 382.9 L159.3 381.6 L159.9 381.3 L160.5 381.5 L161.2 380.4 L161.8 381.4 L162.5 380.0 L163.1 380.4 L163.8 379.4 L164.4 380.4 L165.0 381.4 L165.7 380.4 L166.3 382.0 L167.0 382.3 L167.6 382.2 L168.3 381.5 L168.9 383.1 L169.6 382.5 L170.2 381.6 L170.8 380.9 L171.5 381.0 L172.2 379.7 L172.8 380.2 L173.4 379.6 L174.1 378.5 L174.7 376.7 L175.4 376.1 L176.0 374.3 L176.6 373.8 L177.3 371.4 L177.9 370.6 L178.6 370.0 L179.2 369.3 L179.8 369.7 L180.5 368.3 L181.2 368.7 L181.8 368.6 L182.4 368.0 L183.1 367.4 L183.8 366.7 L184.4 366.6 L185.0 366.1 L185.7 367.0 L186.3 366.6 L187.0 367.3 L187.6 366.4 L188.3 366.9 L188.9 366.9 L189.5 365.5 L190.2 364.9 L190.8 363.1 L191.5 363.1 L192.1 361.0 L192.7 359.0 L193.4 357.3 L194.0 356.3 L194.7 354.2 L195.3 353.3 L195.9 352.3 L196.6 353.2 L197.2 353.5 L197.8 352.6 L198.5 353.7 L199.1 353.2 L199.8 352.8 L200.4 353.2 L201.1 352.3 L201.7 351.5 L202.3 352.8 L203.0 352.9 L203.7 353.1 L204.3 351.8 L204.9 352.3 L205.6 353.4 L206.2 354.1 L206.9 354.2 L207.5 353.5 L208.2 355.0 L208.8 356.6 L209.4 356.6 L210.1 356.3 L210.7 355.2 L211.3 355.0 L212.0 355.8 L212.6 355.1 L213.3 354.6 L213.9 354.7 L214.6 353.5 L215.2 353.7 L215.9 353.3 L216.5 354.3 L217.1 353.1 L217.8 352.2 L218.4 352.0 L219.0 351.2 L219.7 352.3 L220.3 354.1 L221.0 355.1 L221.6 354.4 L222.3 353.3 L222.9 352.2 L223.5 351.7 L224.2 351.3 L224.8 350.9 L225.5 349.6 L226.1 347.6 L226.8 347.0 L227.4 347.8 L228.1 346.1 L228.7 346.2 L229.4 345.7 L230.0 345.9 L230.6 344.4 L231.3 345.3 L231.9 344.0 L232.6 343.3 L233.2 342.5 L233.7 341.4 L234.2 339.9 L235.0 340.5 L235.8 342.7 L236.4 342.9 L237.1 342.7 L237.7 343.2 L238.3 342.6 L239.0 341.0 L239.6 341.7 L240.2 342.5 L240.9 343.3 L241.5 344.0 L242.2 342.5 L242.8 343.1 L243.5 343.3 L244.1 344.3 L244.8 346.7 L245.4 347.8 L246.1 347.7 L246.7 348.1 L247.3 349.3 L248.0 349.5 L248.6 352.3 L249.2 354.1 L250.0 349.9 L250.8 348.2 L251.4 348.1 L252.0 347.8 L252.6 348.8 L253.2 347.5 L253.8 348.2 L254.4 347.2 L255.0 348.1 L255.7 347.2 L256.3 349.2 L257.0 349.5 L257.6 349.5 L258.3 349.5 L258.9 350.5 L259.5 350.4 L260.2 349.6 L260.8 349.5 L261.5 347.2 L262.1 347.2 L262.7 346.9 L263.4 346.0 L264.0 345.1 L264.7 345.1 L265.3 344.3 L265.9 347.2 L266.5 347.1 L267.2 347.6 L267.9 345.6 L268.5 346.0 L269.1 344.5 L269.8 345.2 L270.4 344.3 L271.1 343.6 L271.7 342.1 L272.4 341.2 L273.0 340.6 L273.6 339.3 L274.3 339.3 L274.9 337.9 L275.5 337.7 L276.2 336.1 L276.8 335.6 L277.5 333.0 L278.1 335.3 L278.8 334.6 L279.4 334.2 L280.0 335.3 L280.7 336.7 L281.3 337.0 L282.0 338.4 L282.6 339.3 L283.3 339.7 L283.9 339.5 L284.6 339.9 L285.2 339.1 L285.9 338.0 L286.5 336.6 L287.1 337.0 L287.8 336.0 L288.4 336.2 L289.1 336.8 L289.7 336.5 L290.3 336.8 L291.0 336.3 L291.6 336.2 L292.2 335.0 L292.9 333.5 L293.6 332.2 L294.2 330.8 L294.8 329.6 L295.5 328.8 L296.1 329.2 L296.9 326.1 L297.6 324.5 L298.2 324.1 L298.9 323.2 L299.5 322.9 L300.1 322.6 L300.8 322.3 L301.4 321.7 L302.0 320.9 L302.7 320.4 L303.3 320.2 L304.0 318.0 L304.6 317.8 L305.3 320.6 L305.9 323.3 L306.6 326.1 L307.2 327.8 L307.8 329.8 L308.4 328.9 L309.1 326.9 L309.8 326.0 L310.4 325.3 L311.0 326.9 L311.7 327.4 L312.4 327.2 L313.0 328.0 L313.6 329.2 L314.3 330.0 L315.0 334.2 L315.6 337.2 L316.2 335.7 L316.9 335.5 L317.5 334.7 L318.1 339.2 L318.8 344.3 L319.5 349.8 L320.1 353.7 L320.7 356.1 L321.3 360.1 L322.0 361.0 L322.6 359.0 L323.3 358.8 L324.0 362.2 L324.8 366.4 L325.5 371.2 L326.2 369.1 L326.9 367.1 L327.6 366.9 L328.3 364.6 L329.0 362.6 L329.6 359.0 L330.3 354.2 L331.0 349.6 L331.6 345.0 L332.2 344.5 L332.9 343.8 L333.5 341.5 L334.1 341.4 L334.8 342.2 L335.4 340.9 L336.1 342.4 L336.8 342.4 L337.4 340.9 L338.1 341.6 L338.7 341.5 L339.4 341.3 L340.0 341.6 L340.6 343.0 L341.3 343.5 L341.9 345.6 L342.6 346.7 L343.2 347.8 L343.8 348.2 L344.5 348.4 L345.1 348.3 L345.8 347.3 L346.4 348.2 L347.1 347.4 L347.7 347.8 L348.3 348.8 L349.0 349.9 L349.6 349.3 L350.3 351.1 L350.9 351.9 L351.5 354.4 L352.2 357.3 L352.9 358.9 L353.5 361.8 L354.1 359.0 L354.8 357.9 L355.4 355.9 L356.0 354.4 L356.7 354.0 L357.4 353.5 L358.0 352.3 L358.6 353.1 L359.3 354.8 L359.9 355.3 L360.5 351.7 L361.2 352.2 L361.8 351.3 L362.5 350.2 L363.1 348.9 L363.7 348.2 L364.4 348.5 L365.0 347.1 L365.7 346.4 L366.3 345.8 L366.9 348.2 L367.6 350.2 L368.2 350.0 L368.9 351.9 L369.5 352.7 L370.2 353.3 L370.8 353.6 L371.5 353.1 L372.1 354.4 L372.7 354.9 L373.4 355.2 L374.0 356.0 L374.7 356.2 L375.3 356.3 L375.9 356.7 L376.6 357.8 L377.2 358.3 L377.9 357.4 L378.5 357.8 L379.1 357.0 L379.8 355.6 L380.5 355.0 L381.1 353.8 L381.8 353.6 L382.4 354.0 L383.1 353.7 L383.7 353.9 L384.3 354.8 L384.9 357.7 L385.6 358.8 L386.2 356.0 L386.9 355.6 L387.5 357.2 L388.2 355.8 L388.8 355.1 L389.4 354.3 L390.1 352.6 L390.7 352.3 L391.3 351.5 L392.0 348.9 L392.6 348.5 L393.2 349.4 L393.9 347.9 L394.6 347.8 L395.2 347.7 L395.9 347.6 L396.5 346.8 L397.1 347.7 L397.8 346.0 L398.4 348.0 L399.1 348.1 L399.7 348.9 L400.4 351.2 L401.0 352.2 L401.6 354.8 L402.3 356.8 L402.9 357.5 L403.6 358.6 L404.2 361.7 L404.9 361.2 L405.6 362.5 L406.2 363.3 L406.9 366.0 L407.6 365.3 L408.2 364.0 L408.9 362.2 L409.5 361.6 L410.1 363.0 L410.8 362.6 L411.5 363.1 L412.1 365.6 L412.7 366.2 L413.4 369.0 L414.0 371.3 L414.6 373.3 L415.3 376.5 L415.9 380.7 L416.6 383.7 L417.2 386.5 L417.8 389.5 L418.5 387.5 L419.1 385.8 L419.8 384.7 L420.4 382.5 L421.1 382.1 L421.7 383.0 L422.4 382.4 L423.0 383.1 L423.6 381.8 L424.3 381.3 L424.9 380.7 L425.5 380.7 L426.2 380.7 L426.9 380.8 L427.5 380.5 L428.1 378.2 L428.8 377.0 L429.4 375.1 L430.0 375.7 L430.7 376.5 L431.4 376.7 L432.0 376.8 L432.6 377.1 L433.3 378.2 L433.9 377.0 L434.6 377.0 L435.2 378.1 L435.8 376.3 L436.5 372.1 L437.1 368.2 L437.8 366.6 L438.4 364.0 L439.1 363.6 L439.7 362.0 L440.3 362.8 L441.0 363.7 L441.6 365.6 L442.2 365.4 L442.9 366.0 L443.6 367.6 L444.2 367.4 L444.9 366.7 L445.5 366.9 L446.1 366.5 L446.8 366.1 L447.4 366.2 L448.1 365.3 L448.7 366.1 L449.4 365.5 L450.0 365.3 L450.6 365.6 L451.3 366.5 L451.9 367.2 L452.6 367.1 L453.2 367.9 L453.8 367.7 L454.5 368.1 L455.1 368.2 L455.8 368.1 L456.4 368.8 L457.0 369.8 L457.7 369.5 L458.3 370.0 L458.9 368.1 L459.6 367.7 L460.2 366.2 L460.9 365.1 L461.5 362.4 L462.2 363.1 L462.9 359.8 L463.5 357.9 L464.1 357.9 L464.7 356.7 L465.4 356.3 L466.0 357.8 L466.7 358.5 L467.3 358.3 L468.0 358.8 L468.6 358.1 L469.2 359.3 L469.9 358.3 L470.5 358.8 L471.2 356.0 L471.8 354.0 L472.5 351.5 L473.1 351.4 L473.8 351.9 L474.4 351.3 L475.0 350.6 L475.7 349.2 L476.3 347.9 L477.0 345.8 L477.6 345.4 L478.3 345.4 L478.9 345.4 L479.6 343.2 L480.2 343.9 L480.8 344.0 L481.4 344.4 L482.1 344.7 L482.7 344.5 L483.4 343.8 L484.0 343.9 L484.6 342.8 L485.3 342.7 L486.0 343.6 L486.6 342.2 L487.2 343.3 L487.9 343.5 L488.5 342.0 L489.1 344.2 L489.8 344.6 L490.4 344.8 L491.1 344.6 L491.7 347.0 L492.4 347.0 L493.0 346.3 L493.7 346.0 L494.3 346.1 L494.9 346.7 L495.6 346.8 L496.2 345.4 L496.9 345.5 L497.5 345.2 L498.1 345.1 L498.8 345.0 L499.5 344.1 L500.1 344.0 L500.7 342.3 L501.4 341.2 L502.0 340.7 L502.7 340.4 L503.3 339.1 L503.9 338.3 L504.6 337.3 L505.2 334.8 L505.9 335.9 L506.5 335.8 L507.2 335.9 L507.8 336.1 L508.5 336.3 L509.1 336.4 L509.7 336.7 L510.4 337.4 L511.0 337.1 L511.7 338.2 L512.3 339.2 L512.9 339.1 L513.6 340.1 L514.2 339.8 L514.9 339.3 L515.6 339.4 L516.2 338.9 L516.9 338.2 L517.6 338.2 L518.2 338.1 L518.9 338.2 L519.5 339.3 L520.1 340.0 L520.8 341.2 L521.4 340.9 L522.0 340.0 L522.7 340.1 L523.4 338.3 L524.0 339.9 L524.6 338.1 L525.3 337.7 L525.9 338.0 L526.6 336.0 L527.2 335.6 L527.9 334.4 L528.5 335.2 L529.2 336.2 L529.8 336.3 L530.5 336.6 L531.1 336.7 L531.7 336.5 L532.4 336.0 L533.0 335.3 L533.6 335.7 L534.3 335.6 L534.9 335.7 L535.5 336.3 L536.2 337.4 L536.8 337.2 L537.5 337.6 L538.1 338.9 L538.8 337.9 L539.4 338.7 L540.0 337.4 L540.7 337.5 L541.4 337.2 L542.0 336.1 L542.6 336.1 L543.3 335.5 L543.9 334.9 L544.5 334.8 L545.2 333.6 L545.8 333.6 L546.4 332.8 L547.1 333.7 L547.8 333.0 L548.4 332.2 L549.1 332.6 L549.7 332.4 L550.3 331.6 L551.0 331.2 L551.6 331.2 L552.3 331.7 L552.9 331.5 L553.5 334.3 L554.2 336.3 L554.8 337.7 L555.5 339.3 L556.1 340.8 L556.8 339.3 L557.4 336.7 L558.0 338.8 L558.7 342.6 L559.3 344.0 L560.0 347.4 L560.6 350.1 L561.3 353.7 L561.8 355.6 L562.3 355.0 L563.0 352.5 L563.6 349.1 L564.3 349.7 L565.0 350.6 L565.7 351.1 L566.4 351.1 L567.0 349.6 L567.7 349.3 L568.3 348.3 L569.0 348.7 L569.6 346.9 L570.2 347.2 L570.9 348.7 L571.6 349.7 L572.2 348.9 L573.0 350.2 L573.8 351.7 L574.5 350.1 L575.3 349.5 L576.0 348.2 L576.6 348.6 L577.3 348.3 L578.0 347.1 L578.6 346.8 L579.2 347.2 L579.9 347.1 L580.5 347.8 L581.2 348.4 L581.8 347.8 L582.4 348.6 L583.1 348.3 L583.7 349.7 L584.4 349.1 L585.0 349.3 L585.7 348.5 L586.3 348.9 L587.0 348.3 L587.6 348.7 L588.2 347.9 L588.9 348.5 L589.5 347.9 L590.2 349.0 L590.8 349.3 L591.4 349.7 L592.1 349.0 L592.7 349.2 L593.4 349.6 L594.0 348.7 L594.6 348.0 L595.3 347.6 L596.0 346.6 L596.6 345.5 L597.2 344.5 L597.9 341.6 L598.5 340.4 L599.1 340.5 L599.8 340.4 L600.4 340.4 L601.1 341.2 L601.7 340.7 L602.3 340.0 L603.0 339.0 L603.6 339.5 L604.3 339.1 L604.9 338.9 L605.5 338.6 L606.2 338.9 L606.8 338.0 L607.5 338.9 L608.1 338.9 L608.8 338.1 L609.4 338.5 L610.1 337.6 L610.7 338.3 L611.4 337.9 L612.0 338.6 L612.7 338.0 L613.3 338.2 L613.9 337.1 L614.6 336.7 L615.2 336.5 L615.9 336.2 L616.5 334.5 L617.2 335.8 L617.8 334.2 L618.4 333.0 L619.1 332.4 L619.7 332.3 L620.3 331.8 L621.0 330.6 L621.6 330.2 L622.2 330.0 L622.9 329.5 L623.5 329.3 L624.2 328.9 L624.8 328.1 L625.5 327.0 L626.1 327.3 L626.8 327.2 L627.5 325.2 L628.1 325.2 L628.8 324.8 L629.5 324.1 L630.1 324.1 L630.8 322.9 L631.5 321.1 L632.1 320.2 L632.8 319.7 L633.4 319.1 L634.0 317.4 L634.6 316.2 L635.3 313.6 L635.9 312.6 L636.8 308.7 L637.4 309.5 L637.9 309.6 L638.5 310.3 L639.1 309.5 L639.8 309.7 L640.5 311.1 L641.1 311.2 L641.8 306.4 L642.5 304.5 L643.2 300.7 L643.8 302.9 L644.3 304.6 L644.9 304.3 L645.6 306.8 L646.2 307.1 L646.8 306.2 L647.5 304.9 L648.1 305.0 L648.7 305.5 L649.4 304.3 L650.0 304.5 L650.7 303.4 L651.3 304.2 L652.0 301.7 L652.6 299.8 L653.3 297.9 L653.9 296.7 L654.6 298.4 L655.2 298.6 L655.8 296.1 L656.5 296.4 L657.1 293.7 L657.8 294.5 L658.4 295.2 L659.1 293.6 L659.7 294.4 L660.4 295.2 L661.0 293.9 L661.6 293.6 L662.3 294.3 L662.9 297.0 L663.6 297.3 L664.2 299.2 L664.8 301.8 L665.5 303.0 L666.1 304.9 L666.7 303.9 L667.4 303.9 L668.0 304.3 L668.7 303.8 L669.3 303.5 L669.9 301.9 L670.6 302.8 L671.2 301.4 L671.9 301.4 L672.5 301.0 L673.2 301.1 L673.8 298.9 L674.5 297.9 L675.1 297.9 L675.8 296.6 L676.4 295.3 L677.0 296.7 L677.7 295.7 L678.3 294.9 L678.9 294.3 L679.6 292.3 L680.2 290.1 L680.9 289.4 L681.5 289.7 L682.1 289.0 L682.7 288.7 L683.3 288.6 L683.9 288.9 L684.5 288.1 L685.2 288.3 L685.8 291.4 L686.5 288.2 L687.1 288.2 L687.8 288.8 L688.4 287.7 L689.0 285.2 L689.7 284.3 L690.3 281.1 L690.9 279.3 L691.5 278.9 L692.2 277.0 L692.8 276.0 L693.5 274.3 L694.1 272.9 L694.8 274.2 L695.4 276.2 L696.1 277.7 L696.7 278.1 L697.4 275.4 L698.0 274.5 L698.6 274.6 L699.3 275.1 L699.9 274.8 L700.6 274.2 L701.2 272.1 L701.9 271.4 L702.5 270.3 L703.1 269.0 L703.8 266.2 L704.4 263.9 L705.1 261.3 L705.7 255.6 L706.3 252.4 L707.0 253.4 L707.6 255.0 L708.2 253.5 L708.9 253.6 L709.5 258.3 L710.2 263.3 L710.9 266.1 L711.5 268.4 L712.1 265.6 L712.8 260.6 L713.4 262.6 L714.0 264.2 L714.9 282.8 L715.5 282.9 L716.2 282.4 L716.6 270.3 L717.2 271.0 L717.9 270.9 L718.5 272.0 L719.1 272.2 L719.8 273.1 L720.5 273.3 L721.1 273.6 L721.7 271.6 L722.4 271.2 L723.0 270.3 L723.7 269.2 L724.3 268.2 L724.9 269.7 L725.6 268.0 L726.2 269.0 L726.9 268.6 L727.6 269.4 L728.2 270.0 L728.8 269.0 L729.5 269.2 L730.1 267.8 L730.8 269.8 L731.4 269.5 L732.0 268.7 L732.7 269.0 L733.3 270.1 L734.0 269.5 L734.6 269.6 L735.2 268.5 L735.9 270.1 L736.6 269.1 L737.2 267.9 L737.8 268.6 L738.5 268.9 L739.1 268.7 L739.7 270.1 L740.4 271.9 L741.0 272.5 L741.7 273.4 L742.3 273.5 L743.0 272.7 L743.6 270.6 L744.3 270.6 L744.9 270.0 L745.5 268.7 L746.2 270.0 L746.8 269.1 L747.5 269.0 L748.1 268.9 L748.7 266.8 L749.4 266.2 L750.0 263.7 L750.6 263.3 L751.3 263.3 L752.0 263.1 L752.6 263.8 L753.2 265.2 L753.9 263.4 L754.5 265.7 L755.2 264.7 L755.8 265.5 L756.4 265.5 L757.1 264.4 L757.8 264.8 L758.4 264.5 L759.1 263.9 L759.7 263.3 L760.3 263.2 L761.0 263.6 L761.6 261.8 L762.2 263.5 L762.9 263.0 L763.5 262.5 L764.1 261.6 L764.8 262.6 L765.5 260.9 L766.1 260.7 L766.8 259.7 L767.4 259.5 L768.0 259.6 L768.7 259.3 L769.3 257.9 L769.9 258.1 L770.6 258.4 L771.2 257.4 L771.8 257.4 L772.5 257.4 L773.1 256.6 L773.8 256.4 L774.4 256.0 L775.0 258.3 L775.7 258.4 L776.3 259.0 L777.0 259.3 L777.6 258.8 L778.2 259.2 L778.9 258.1 L779.5 256.2 L780.2 258.3 L780.9 257.1 L781.5 256.7 L782.1 255.1 L782.8 255.0 L783.5 254.4 L784.1 252.9 L784.6 247.3 L785.1 243.3 L785.9 237.3 L786.7 232.7 L787.2 226.1 L787.8 221.1 L788.5 221.7 L789.1 222.4 L789.8 222.9 L790.4 221.8 L791.0 220.9 L791.6 219.4 L792.2 218.3 L793.0 212.8 L793.7 207.5 L794.3 206.8 L794.9 205.8 L795.5 205.5 L796.1 204.6 L796.7 203.8 L797.3 203.5 L798.0 203.0 L798.6 201.7 L799.2 201.5 L799.8 198.9 L800.4 197.0 L800.9 193.9 L801.5 191.7 L802.1 189.3 L802.8 186.9 L803.4 188.1 L804.1 188.1 L804.7 189.6 L805.5 188.0 L806.2 186.9 L807.0 190.2 L807.8 193.4 L808.4 194.8 L809.1 193.6 L809.8 195.1 L810.4 195.7 L811.1 195.3 L811.7 196.3 L812.3 195.2 L812.9 194.6 L813.6 194.8 L814.2 194.0 L814.8 193.7 L815.4 193.5 L816.0 192.6 L816.7 193.5 L817.3 193.0 L817.9 192.6 L818.6 192.8 L819.3 192.3 L820.0 194.4 L820.7 193.9 L821.5 199.3 L822.3 203.5 L822.9 206.3 L823.6 210.2 L824.2 212.6 L824.7 210.0 L825.2 207.9 L825.9 206.3 L826.7 206.0 L827.4 204.1 L828.1 203.3 L828.7 204.1 L829.2 204.2 L829.8 204.4 L830.4 204.4 L831.2 200.9 L832.0 196.0 L832.6 193.9 L833.1 193.0 L833.7 192.7 L834.3 192.3 L834.9 191.6 L835.5 190.9 L836.0 189.8 L836.6 187.6 L837.2 184.9 L837.8 181.7 L838.4 179.8 L839.0 176.0 L839.8 170.3 L840.4 169.0 L841.1 168.6 L841.7 166.9 L842.3 166.9 L843.0 167.3 L843.6 168.3 L844.2 168.2 L844.8 168.7 L845.4 167.9 L846.0 166.2 L846.6 166.1 L847.2 166.5 L847.9 163.4 L848.7 160.4 L849.4 158.3 L850.1 155.6 L850.9 155.0 L851.6 152.1 L852.3 149.5 L853.1 150.9 L853.8 148.1 L854.5 149.9 L855.2 150.5 L855.8 152.9 L856.4 154.7 L857.0 152.7 L857.6 150.2 L858.2 150.0 L858.9 149.2 L859.7 148.7 L860.4 146.8 L861.1 146.8 L861.9 144.2 L862.6 143.2 L863.3 140.2 L864.1 139.8 L864.8 136.7 L865.5 136.0 L866.2 135.7 L867.0 135.2 L867.7 135.4 L868.4 134.7 L869.0 133.6 L869.7 132.0 L870.3 130.5 L871.0 130.9 L871.5 122.3 L872.1 114.3 L872.7 111.3 L873.2 109.2 L873.8 111.2 L874.3 114.1 L874.8 117.4 L875.4 120.7 L876.0 120.7 L876.5 122.5 L877.4 109.8 L877.8 122.9 L878.7 120.0 L879.5 118.2 L880.3 116.5 L880.8 116.0 L881.4 115.4 L882.0 115.2 L882.5 115.9 L883.1 115.7 L883.6 114.4 L884.2 114.3" stroke="#3a9ae3" stroke-width="2.35" fill="none" stroke-linejoin="miter" stroke-miterlimit="10"/>
<path d="M72.8 409.1 L73.4 409.3 L73.9 410.6 L74.5 410.0 L75.1 412.6 L75.8 413.0 L76.4 413.9 L77.1 415.5 L77.7 416.4 L78.4 416.4 L79.0 416.7 L79.6 416.1 L80.3 415.8 L80.9 415.9 L81.6 416.1 L82.2 416.0 L82.8 415.2 L83.5 417.3 L84.2 415.9 L84.8 415.9 L85.4 415.7 L86.0 414.7 L86.7 415.2 L87.3 415.0 L87.9 411.8 L88.6 406.5 L89.2 405.8 L89.9 403.7 L90.5 403.3 L91.2 402.2 L91.8 402.9 L92.5 402.1 L93.2 402.8 L93.8 405.1 L94.4 406.0 L95.1 407.5 L95.7 408.0 L96.4 406.4 L97.0 407.4 L97.6 408.3 L98.3 409.9 L98.9 408.4 L99.5 410.9 L100.2 411.4 L100.8 411.4 L101.4 413.8 L102.1 413.1 L102.7 414.4 L103.4 413.9 L104.0 414.1 L104.7 415.2 L105.3 412.9 L105.9 410.6 L106.6 410.1 L107.2 412.3 L107.9 408.9 L108.5 407.6 L109.2 406.3 L109.8 406.4 L110.5 407.1 L111.2 409.6 L111.8 409.9 L112.4 410.8 L113.0 409.3 L113.7 408.1 L114.3 409.1 L114.9 408.2 L115.6 408.1 L116.2 408.3 L116.9 406.5 L117.5 406.3 L118.2 406.3 L118.8 405.0 L119.5 406.6 L120.1 405.0 L120.8 404.4 L121.4 405.1 L122.0 406.0 L122.7 404.9 L123.3 406.9 L124.0 406.4 L124.6 405.8 L125.3 404.7 L125.9 406.5 L126.6 405.9 L127.2 407.5 L127.9 406.1 L128.5 407.5 L129.1 408.6 L129.8 406.4 L130.4 407.1 L131.1 407.4 L131.7 405.6 L132.4 404.7 L133.0 405.6 L133.6 403.9 L134.3 403.3 L134.9 402.6 L135.6 403.2 L136.2 402.1 L136.8 402.4 L137.5 404.5 L138.1 402.0 L138.7 402.7 L139.4 402.6 L140.0 403.2 L140.6 402.0 L141.3 402.6 L141.9 402.5 L142.6 403.5 L143.2 401.7 L143.9 402.3 L144.5 401.4 L145.2 401.6 L145.8 400.8 L146.4 401.3 L147.1 401.8 L147.8 400.8 L148.4 401.3 L149.0 401.8 L149.7 402.2 L150.3 400.6 L150.9 400.5 L151.6 400.0 L152.2 399.4 L152.8 397.9 L153.5 396.4 L154.2 396.1 L154.8 394.5 L155.5 393.8 L156.1 393.0 L156.8 392.7 L157.4 392.1 L158.0 392.5 L158.7 391.7 L159.3 391.9 L160.0 389.9 L160.6 390.0 L161.3 390.0 L161.9 388.5 L162.5 388.5 L163.2 387.7 L163.8 388.3 L164.4 389.2 L165.1 389.8 L165.7 391.3 L166.3 391.3 L167.0 390.4 L167.6 390.4 L168.3 391.2 L168.9 390.1 L169.5 389.1 L170.2 388.5 L170.8 390.4 L171.5 391.1 L172.1 390.0 L172.8 389.6 L173.4 389.5 L174.0 387.4 L174.7 386.4 L175.3 383.7 L176.0 383.4 L176.6 380.1 L177.2 379.2 L177.9 380.0 L178.6 379.2 L179.2 378.5 L179.8 378.9 L180.5 378.7 L181.2 378.1 L181.8 378.3 L182.4 377.4 L183.1 381.2 L183.7 378.3 L184.4 379.6 L185.0 379.2 L185.7 379.8 L186.3 380.1 L186.9 380.9 L187.6 380.7 L188.2 380.0 L188.9 379.8 L189.5 380.0 L190.2 379.7 L190.8 379.5 L191.5 378.9 L192.1 378.3 L192.8 378.2 L193.4 378.9 L194.0 375.6 L194.7 370.5 L195.3 368.8 L195.9 368.5 L196.6 369.2 L197.2 367.7 L197.8 367.8 L198.5 367.9 L199.1 367.6 L199.8 369.1 L200.4 368.9 L201.0 368.0 L201.7 368.5 L202.3 366.0 L203.0 366.7 L203.7 364.5 L204.3 362.6 L204.9 362.7 L205.6 363.1 L206.2 363.0 L206.8 362.5 L207.5 363.0 L208.1 363.2 L208.8 363.1 L209.4 364.1 L210.1 364.6 L210.7 364.0 L211.3 364.4 L212.0 365.4 L212.6 366.5 L213.3 367.3 L213.9 368.5 L214.6 367.6 L215.2 368.9 L215.8 367.8 L216.5 365.5 L217.1 365.6 L217.8 364.9 L218.4 365.8 L219.0 365.2 L219.7 365.7 L220.3 365.1 L220.9 365.1 L221.6 362.4 L222.2 364.1 L222.9 360.5 L223.5 361.5 L224.1 361.0 L224.7 362.2 L225.3 361.1 L225.9 361.0 L226.4 356.4 L226.9 359.7 L227.4 359.9 L228.0 359.5 L228.7 359.0 L229.3 358.5 L230.0 356.9 L230.6 356.2 L231.2 357.6 L231.9 357.3 L232.5 354.3 L233.2 355.6 L233.8 356.2 L234.5 356.8 L235.1 357.5 L235.8 357.8 L236.4 358.4 L237.0 359.0 L237.7 359.0 L238.3 359.7 L238.9 360.2 L239.6 360.9 L240.2 360.7 L240.9 360.9 L241.5 361.5 L242.2 360.3 L242.8 361.7 L243.5 360.9 L244.1 361.0 L244.8 363.3 L245.4 363.2 L246.0 364.6 L246.7 365.1 L247.3 365.4 L247.9 365.5 L248.6 365.4 L249.2 368.8 L249.9 368.1 L250.5 366.8 L251.2 366.0 L251.8 366.1 L252.5 366.6 L253.1 365.7 L253.8 366.7 L254.4 366.8 L255.0 366.2 L255.7 365.9 L256.3 367.8 L257.0 367.5 L257.6 367.6 L258.2 366.7 L258.9 366.2 L259.5 365.0 L260.1 366.0 L260.8 365.1 L261.4 364.0 L262.1 365.3 L262.8 365.3 L263.4 364.4 L264.1 364.4 L264.7 364.7 L265.3 364.5 L266.0 364.1 L266.6 363.5 L267.2 363.4 L267.9 362.5 L268.5 363.2 L269.1 363.2 L269.8 361.9 L270.4 362.7 L271.1 360.4 L271.8 361.6 L272.4 361.9 L273.0 360.7 L273.7 361.8 L274.3 360.7 L274.9 359.7 L275.6 359.9 L276.2 359.0 L276.9 358.8 L277.5 358.7 L278.1 359.3 L278.8 359.3 L279.5 357.8 L280.1 358.8 L280.7 357.9 L281.4 359.6 L282.0 359.4 L282.6 359.1 L283.3 358.4 L283.9 358.7 L284.5 356.3 L285.2 356.0 L285.9 355.9 L286.5 354.8 L287.1 354.0 L287.8 352.4 L288.4 352.7 L289.1 353.0 L289.7 350.7 L290.3 350.7 L291.0 351.4 L291.6 351.4 L292.2 347.8 L292.9 346.2 L293.6 343.1 L294.2 339.8 L294.9 339.4 L295.5 340.1 L296.2 336.7 L296.9 334.4 L297.5 333.2 L298.2 333.3 L298.8 332.2 L299.5 333.3 L300.1 332.5 L300.8 331.6 L301.4 330.7 L302.1 328.9 L302.7 328.4 L303.3 325.9 L304.0 323.8 L304.6 321.0 L305.5 321.5 L306.1 328.8 L306.8 336.5 L307.4 334.8 L307.9 333.0 L308.5 330.4 L309.1 328.7 L309.8 326.5 L310.4 324.6 L311.0 325.8 L311.7 325.5 L312.4 327.2 L313.0 326.8 L313.6 326.8 L314.3 328.1 L315.0 328.5 L315.6 330.0 L316.4 330.3 L317.1 329.0 L317.7 330.2 L318.2 333.9 L318.8 334.6 L319.4 337.9 L320.1 339.5 L320.7 341.7 L321.3 343.9 L322.0 343.8 L322.6 342.2 L323.3 341.1 L324.0 347.1 L324.8 348.7 L325.5 353.6 L326.2 353.6 L326.9 352.8 L327.7 353.8 L328.4 353.4 L329.0 347.4 L329.7 341.5 L330.3 334.8 L330.9 329.2 L331.4 327.4 L332.1 327.4 L332.8 326.3 L333.4 326.8 L334.1 327.5 L334.8 327.0 L335.5 327.6 L336.1 328.3 L336.8 327.7 L337.4 329.6 L338.0 328.9 L338.7 330.2 L339.3 331.1 L340.0 331.9 L340.6 332.2 L341.3 331.9 L341.9 332.7 L342.6 330.9 L343.2 330.1 L343.8 329.6 L344.4 329.4 L345.1 329.0 L345.7 329.2 L346.4 328.4 L347.0 329.3 L347.7 330.0 L348.3 328.8 L348.9 328.9 L349.6 331.5 L350.2 332.5 L350.9 332.2 L351.5 335.8 L352.2 336.7 L352.9 339.2 L353.5 340.0 L354.1 340.1 L354.8 338.2 L355.4 338.7 L356.0 340.8 L356.7 340.1 L357.4 341.4 L358.0 341.7 L358.6 340.5 L359.3 340.5 L359.9 339.2 L360.6 338.0 L361.2 337.0 L361.9 338.5 L362.5 340.5 L363.2 339.1 L363.9 337.1 L364.6 335.5 L365.2 337.6 L365.8 337.8 L366.4 338.8 L367.0 339.1 L367.6 340.3 L368.2 340.6 L368.9 342.8 L369.5 343.3 L370.2 344.2 L370.8 343.2 L371.5 343.1 L372.1 347.4 L372.7 349.3 L373.4 348.3 L374.0 348.5 L374.6 350.0 L375.3 349.4 L375.9 349.6 L376.6 351.1 L377.2 350.4 L377.9 352.1 L378.5 352.8 L379.1 350.2 L379.8 349.9 L380.4 348.4 L381.1 346.6 L381.7 346.1 L382.3 344.2 L383.0 344.4 L383.6 343.3 L384.3 343.6 L384.9 343.0 L385.5 342.9 L386.2 343.2 L386.9 342.5 L387.5 342.5 L388.1 341.9 L388.8 342.0 L389.6 338.8 L390.3 334.1 L390.9 337.2 L391.4 341.6 L392.0 345.3 L392.6 344.9 L393.3 344.1 L394.0 343.6 L394.6 342.8 L395.2 342.5 L395.9 341.4 L396.5 342.4 L397.1 341.7 L397.8 341.7 L398.4 341.3 L399.0 343.3 L399.7 343.0 L400.4 345.1 L401.0 346.0 L401.6 348.8 L402.3 351.6 L403.0 354.9 L403.6 356.8 L404.3 357.0 L404.9 358.9 L405.6 357.1 L406.2 357.6 L406.9 357.4 L407.5 359.6 L408.2 362.3 L408.9 360.7 L409.5 360.4 L410.1 361.7 L410.8 363.0 L411.4 363.1 L412.1 364.9 L412.7 364.5 L413.4 367.1 L414.0 370.8 L414.7 372.4 L415.3 375.8 L416.0 381.3 L416.6 386.2 L417.2 392.7 L417.8 396.7 L418.5 393.5 L419.1 391.7 L419.8 390.7 L420.4 391.2 L421.1 390.5 L421.7 391.5 L422.3 393.8 L423.0 393.3 L423.6 392.5 L424.3 390.7 L424.9 389.8 L425.6 388.8 L426.2 388.2 L426.8 386.6 L427.5 383.1 L428.1 380.5 L428.8 377.3 L429.5 370.8 L430.1 364.2 L430.7 364.9 L431.4 364.5 L432.0 365.3 L432.6 366.8 L433.3 370.6 L433.9 372.4 L434.7 372.8 L435.5 375.2 L436.1 372.4 L436.6 369.7 L437.2 367.8 L437.8 365.9 L438.4 367.4 L439.1 367.5 L439.7 368.1 L440.3 369.1 L440.9 370.6 L441.6 370.6 L442.2 371.1 L442.9 372.1 L443.5 372.6 L444.1 373.4 L444.8 375.2 L445.5 376.5 L446.1 377.1 L446.7 376.8 L447.4 377.2 L448.0 378.3 L448.7 377.8 L449.3 375.5 L450.0 375.2 L450.6 374.6 L451.2 373.6 L451.9 376.3 L452.5 375.9 L453.1 374.3 L453.8 375.6 L454.4 374.4 L455.1 373.2 L455.7 373.5 L456.2 371.1 L456.8 370.5 L457.7 377.3 L458.3 377.0 L458.9 377.3 L459.6 378.5 L460.2 376.7 L460.9 375.6 L461.5 374.6 L462.1 374.3 L462.8 373.5 L463.4 371.4 L464.1 368.5 L464.8 367.2 L465.4 365.0 L466.0 362.7 L466.7 362.6 L467.3 360.8 L467.9 360.8 L468.6 362.2 L469.2 362.6 L469.9 363.8 L470.5 361.8 L471.2 363.4 L471.8 361.6 L472.5 361.5 L473.1 361.8 L473.8 363.6 L474.4 362.4 L475.1 362.9 L475.7 362.5 L476.3 362.2 L476.9 360.6 L477.6 359.0 L478.2 358.7 L478.9 359.9 L479.5 358.2 L480.1 358.2 L480.8 359.9 L481.5 358.1 L482.1 359.5 L482.7 359.4 L483.4 359.3 L484.0 361.1 L484.6 360.7 L485.3 362.7 L485.9 362.1 L486.5 361.7 L487.2 361.9 L487.9 361.3 L488.5 361.3 L489.1 360.8 L489.8 359.7 L490.4 359.9 L491.1 360.4 L491.8 360.8 L492.4 361.1 L493.1 361.8 L493.7 361.7 L494.3 361.5 L495.0 361.1 L495.6 360.7 L496.2 359.4 L496.9 360.6 L497.5 359.2 L498.1 358.4 L498.8 359.1 L499.4 358.1 L500.1 359.4 L500.8 358.0 L501.4 357.9 L502.0 355.5 L502.5 353.0 L503.1 352.0 L503.7 349.8 L504.4 350.7 L505.2 352.0 L505.9 353.0 L506.5 353.6 L507.1 354.0 L507.8 355.3 L508.4 356.2 L509.0 355.7 L509.7 355.2 L510.3 354.5 L511.0 354.1 L511.6 353.1 L512.2 354.7 L512.9 357.4 L513.6 360.1 L514.2 361.2 L514.9 357.6 L515.5 357.3 L516.2 354.8 L516.9 353.1 L517.5 352.2 L518.2 353.1 L518.8 351.1 L519.5 352.2 L520.1 351.5 L520.8 351.1 L521.4 350.1 L522.1 350.3 L522.7 349.2 L523.3 350.6 L524.0 350.2 L524.6 350.2 L525.3 350.4 L525.9 349.8 L526.5 350.0 L527.2 349.1 L527.8 348.2 L528.5 347.4 L529.1 347.5 L529.8 346.3 L530.4 346.1 L531.1 346.8 L531.7 345.0 L532.3 348.6 L533.0 349.1 L533.6 352.8 L534.2 351.7 L534.9 349.7 L535.6 350.4 L536.2 349.4 L536.9 349.3 L537.5 350.5 L538.2 348.6 L538.8 350.1 L539.5 349.8 L540.1 350.1 L540.7 348.7 L541.4 350.1 L542.0 349.5 L542.6 350.7 L543.3 350.6 L543.9 349.8 L544.5 349.4 L545.2 348.2 L545.9 347.6 L546.5 346.8 L547.1 346.6 L547.8 347.1 L548.4 344.9 L549.0 344.0 L549.7 345.3 L550.3 343.6 L551.0 344.6 L551.6 345.0 L552.3 344.5 L552.9 348.9 L553.5 355.1 L554.2 355.2 L554.8 358.7 L555.5 359.3 L556.3 356.2 L557.1 353.1 L557.9 358.0 L558.7 362.6 L559.3 365.4 L560.0 366.6 L560.6 368.8 L561.2 370.4 L561.7 371.6 L562.3 373.8 L563.0 369.0 L563.8 363.8 L564.6 364.7 L565.4 364.5 L565.9 367.4 L566.4 371.1 L567.1 367.4 L567.9 363.2 L568.5 362.7 L569.0 362.4 L569.6 363.1 L570.2 364.0 L570.9 362.8 L571.5 363.3 L572.1 362.0 L572.8 362.1 L573.4 361.0 L574.1 361.4 L574.8 359.7 L575.4 359.5 L576.0 358.8 L576.7 358.4 L577.3 358.5 L577.9 358.6 L578.6 356.5 L579.2 357.4 L579.9 357.6 L580.5 357.6 L581.2 356.1 L581.8 358.3 L582.5 356.4 L583.1 356.3 L583.8 355.7 L584.4 356.3 L585.0 354.6 L585.7 353.9 L586.4 354.7 L587.0 353.0 L587.6 352.9 L588.2 353.6 L588.9 352.6 L589.5 353.2 L590.1 354.2 L590.8 353.1 L591.5 354.0 L592.1 354.5 L592.8 353.9 L593.4 353.2 L594.1 353.3 L594.7 352.8 L595.5 354.4 L596.3 357.3 L597.0 354.5 L597.8 350.9 L598.5 350.1 L599.1 349.3 L599.8 350.3 L600.5 350.2 L601.1 350.5 L601.8 348.7 L602.4 348.3 L603.0 350.9 L603.7 351.4 L604.3 351.3 L605.0 348.0 L605.6 347.2 L606.2 347.9 L606.9 349.9 L607.5 351.6 L608.1 352.3 L608.8 353.0 L609.4 353.4 L610.1 353.7 L610.7 355.2 L611.4 353.9 L612.0 355.1 L612.7 356.2 L613.3 357.4 L614.0 357.5 L614.6 357.8 L615.2 356.4 L615.9 356.2 L616.5 354.5 L617.1 354.0 L617.8 355.4 L618.4 356.3 L619.1 356.1 L619.7 356.4 L620.3 356.7 L621.0 356.3 L621.6 356.7 L622.3 356.0 L622.9 355.6 L623.6 354.4 L624.2 355.0 L624.9 355.8 L625.5 356.4 L626.2 355.4 L626.8 354.7 L627.5 355.9 L628.1 355.8 L628.8 350.8 L629.5 346.7 L630.1 346.6 L630.8 346.0 L631.5 344.2 L632.1 343.3 L632.8 343.7 L633.4 345.6 L634.1 345.0 L634.8 343.9 L635.5 343.3 L636.0 334.5 L636.6 326.4 L637.2 329.1 L637.8 331.3 L638.5 331.3 L639.1 333.5 L639.8 334.0 L640.4 333.2 L641.1 334.4 L641.7 332.7 L642.4 333.5 L643.0 332.4 L643.7 332.5 L644.3 330.3 L644.9 331.4 L645.6 331.2 L646.2 330.1 L646.8 328.9 L647.5 330.2 L648.1 328.5 L648.7 328.8 L649.4 328.2 L650.0 327.4 L650.7 326.9 L651.3 326.8 L651.8 330.7 L652.4 333.7 L653.1 330.2 L653.9 325.2 L654.5 323.7 L655.2 325.9 L655.8 325.9 L656.5 325.2 L657.1 325.8 L657.7 325.5 L658.4 325.7 L659.0 325.8 L659.7 323.0 L660.3 322.8 L661.0 323.6 L661.6 324.3 L662.3 321.0 L662.9 322.7 L663.5 324.7 L664.2 324.6 L664.8 326.4 L665.4 327.6 L666.0 329.0 L666.5 331.9 L667.1 332.7 L667.8 332.0 L668.6 329.2 L669.3 328.7 L670.0 327.0 L670.6 325.0 L671.3 323.2 L671.9 322.7 L672.5 323.8 L673.2 323.1 L673.8 323.1 L674.4 320.7 L675.1 319.4 L675.8 317.3 L676.4 316.3 L677.0 314.9 L677.7 314.0 L678.3 314.7 L679.0 316.4 L679.6 316.5 L680.2 315.5 L680.9 313.9 L681.8 321.4 L682.4 321.7 L683.0 320.0 L683.5 318.8 L684.1 319.0 L684.8 319.0 L685.4 317.9 L686.0 317.6 L686.7 318.4 L687.4 318.2 L688.0 318.4 L688.6 318.6 L689.2 319.4 L689.9 319.6 L690.5 319.6 L691.2 318.1 L691.8 317.0 L692.5 314.3 L693.1 315.5 L693.8 317.5 L694.4 318.4 L695.0 319.8 L695.7 319.3 L696.3 318.1 L697.0 318.7 L697.6 315.1 L698.3 311.5 L698.9 308.8 L699.5 309.3 L700.2 310.2 L700.8 312.1 L701.4 311.2 L702.1 309.4 L702.8 308.7 L703.4 307.6 L704.0 304.8 L704.7 303.9 L705.3 302.4 L705.9 290.5 L706.5 290.3 L707.2 290.5 L707.8 294.3 L708.3 298.5 L709.0 298.3 L709.8 297.7 L710.5 298.4 L711.1 301.2 L711.8 298.7 L712.4 299.4 L713.1 303.6 L713.9 306.6 L714.4 315.6 L714.9 322.7 L715.5 323.8 L716.2 322.8 L716.9 314.9 L717.5 315.0 L718.2 315.3 L718.8 316.3 L719.5 315.3 L720.1 315.6 L720.7 315.9 L721.4 314.7 L722.0 315.6 L722.7 315.0 L723.3 315.2 L723.9 315.0 L724.6 315.6 L725.2 314.0 L725.9 314.8 L726.5 314.2 L727.1 312.4 L727.8 313.7 L728.5 313.3 L729.1 310.1 L729.8 309.1 L730.4 307.9 L731.0 307.7 L731.7 308.6 L732.3 306.7 L732.9 307.0 L733.6 307.5 L734.2 306.7 L734.9 305.8 L735.5 308.1 L736.1 307.1 L736.8 305.7 L737.5 304.8 L738.2 303.3 L738.8 304.6 L739.4 306.0 L740.0 308.6 L740.6 309.6 L741.1 309.6 L741.7 310.8 L742.3 312.1 L742.9 310.4 L743.5 312.6 L744.0 311.6 L744.6 311.8 L745.2 309.9 L745.9 308.9 L746.5 305.7 L747.1 305.0 L747.6 304.6 L748.2 303.5 L748.8 301.6 L749.4 301.7 L750.0 301.5 L750.6 303.1 L751.2 302.6 L751.8 302.7 L752.3 303.7 L752.9 303.7 L753.5 300.8 L754.0 297.1 L754.9 304.8 L755.5 304.0 L756.0 301.7 L756.6 301.3 L757.5 306.3 L758.1 306.0 L758.7 306.0 L759.3 305.5 L759.9 303.7 L760.5 303.7 L761.1 302.8 L761.8 295.1 L762.4 298.3 L763.0 299.0 L763.7 297.9 L764.4 297.1 L765.0 296.1 L765.5 295.4 L766.1 295.9 L766.7 295.2 L767.4 295.4 L768.0 294.2 L768.7 294.1 L769.4 293.8 L770.1 293.3 L770.8 293.7 L771.5 294.3 L772.2 294.9 L772.8 295.6 L773.5 294.7 L774.1 295.4 L774.8 294.8 L775.4 295.4 L776.0 295.1 L776.5 293.7 L777.1 293.4 L777.7 293.0 L778.3 294.3 L778.9 295.0 L779.4 294.2 L780.0 295.3 L780.6 294.5 L781.2 293.2 L781.8 292.1 L782.5 289.2 L783.2 284.1 L784.1 284.0 L785.0 277.6 L785.5 270.6 L786.0 265.2 L786.6 260.2 L787.1 256.9 L787.7 251.3 L788.5 253.6 L789.2 253.2 L789.8 247.6 L790.6 242.2 L791.4 239.1 L792.1 235.8 L792.9 230.2 L793.7 230.4 L794.5 229.9 L795.1 228.6 L795.6 226.8 L796.2 224.6 L796.8 223.6 L797.4 222.6 L798.0 221.2 L798.6 219.4 L799.2 218.1 L800.0 212.2 L800.7 203.4 L801.5 196.5 L802.3 190.6 L803.1 194.7 L803.9 200.5 L804.5 197.1 L805.1 195.0 L805.7 196.2 L806.4 196.7 L807.0 198.3 L807.5 206.8 L808.1 215.7 L808.8 215.0 L809.5 214.0 L810.2 213.2 L810.9 213.6 L811.5 212.9 L812.0 215.2 L812.6 214.7 L813.2 215.6 L813.9 214.1 L814.6 214.0 L815.3 212.9 L815.8 217.2 L816.4 220.5 L817.1 215.9 L817.9 209.9 L818.5 210.4 L819.1 211.2 L819.7 211.7 L820.3 213.1 L821.0 217.5 L821.8 223.0 L822.6 233.7 L823.4 245.7 L824.0 247.8 L824.6 246.4 L825.2 237.8 L825.7 227.7 L826.5 222.9 L827.3 217.6 L828.0 219.1 L828.8 219.7 L829.4 217.2 L830.0 214.8 L830.6 212.0 L831.2 209.0 L831.8 206.5 L832.4 206.5 L832.9 205.5 L833.5 203.7 L834.1 204.5 L834.7 201.9 L835.3 204.7 L835.9 204.7 L836.5 200.6 L837.0 199.9 L837.6 198.6 L838.2 196.7 L838.8 191.9 L839.4 189.1 L839.9 185.2 L840.5 181.1 L841.1 175.9 L841.7 175.4 L842.4 188.7 L843.1 188.0 L843.7 183.6 L844.4 181.9 L845.0 181.9 L845.6 181.6 L846.2 181.9 L846.8 183.3 L847.4 181.5 L848.0 181.8 L848.7 181.6 L849.3 180.6 L849.9 179.3 L850.5 176.8 L851.0 174.5 L851.6 171.8 L852.3 167.6 L853.0 164.4 L853.5 160.9 L854.1 159.3 L854.7 161.9 L855.2 164.7 L855.7 176.4 L856.2 187.6 L856.8 178.5 L857.4 169.8 L858.0 167.0 L858.5 163.7 L859.1 165.4 L859.8 165.0 L860.4 165.9 L861.1 163.4 L861.9 161.0 L862.6 158.7 L863.3 157.4 L864.0 157.0 L864.8 153.1 L865.5 149.6 L866.3 153.5 L867.1 156.9 L867.8 157.2 L868.6 158.2 L869.3 156.9 L869.9 151.7 L870.4 148.6 L871.0 144.2 L871.5 133.0 L872.1 122.1 L872.7 115.2 L873.2 107.3 L873.9 127.6 L874.8 136.0 L875.4 145.9 L876.0 145.3 L876.5 145.4 L877.0 147.3 L877.6 146.9 L878.1 143.2 L879.0 144.9 L879.8 143.3 L880.6 141.8 L881.4 145.7 L882.1 146.4 L882.8 143.5 L883.6 147.8 L884.5 145.2" stroke="#164c9f" stroke-width="2.4" fill="none" stroke-linejoin="miter" stroke-miterlimit="10"/>
<text class="ax" x="62.3" y="93.8" text-anchor="end">60,00</text>
<text class="ax" x="62.3" y="165.8" text-anchor="end">50,00</text>
<text class="ax" x="62.3" y="238.8" text-anchor="end">40,00</text>
<text class="ax" x="62.3" y="310.8" text-anchor="end">30,00</text>
<text class="ax" x="62.3" y="383.8" text-anchor="end">20,00</text>
<text class="ax" x="62.3" y="455.8" text-anchor="end">10,00</text>
<text class="ax" x="72.9" y="473.8" text-anchor="middle">24.08.2020</text>
<text class="ax" x="478.5" y="473.8" text-anchor="middle">15.02.2023</text>
<text class="ax" x="883.6" y="473.8" text-anchor="middle">22.08.2025</text>
<text class="ttl" x="331.3" y="50" textLength="210.6" lengthAdjust="spacingAndGlyphs">Gibanje tečaja v obdobju</text>
<text class="per" x="546.6" y="50.2" textLength="44.6" lengthAdjust="spacingAndGlyphs">5 let</text>
<path d="M602.4 40.8l4.1 4.2 4.1-4.2" stroke="#1a4b9b" stroke-width="1.7" fill="none"/>
<rect x="283" y="502" width="16" height="4" fill="#1a50a3"/>
<text class="lg" x="303.5" y="508.7" textLength="41.2" lengthAdjust="spacingAndGlyphs">PETG</text>
<path d="M354.4 507.6l4.2-5.4 4.2 5.4z" fill="#21a621"/>
<text class="pc" x="368.4" y="508.5" textLength="74.8" lengthAdjust="spacingAndGlyphs">+232,27%</text>
<rect x="483" y="502" width="16" height="4" fill="#42a0e4"/>
<text class="lg" x="503.8" y="508.7" textLength="58.3" lengthAdjust="spacingAndGlyphs">SBITOP</text>
<path d="M571.5 507.6l4.1-5.4 4.1 5.4z" fill="#21a621"/>
<text class="pc" x="585.2" y="508.5" textLength="75.1" lengthAdjust="spacingAndGlyphs">+188,03%</text>
</svg>
</body>
</html>
